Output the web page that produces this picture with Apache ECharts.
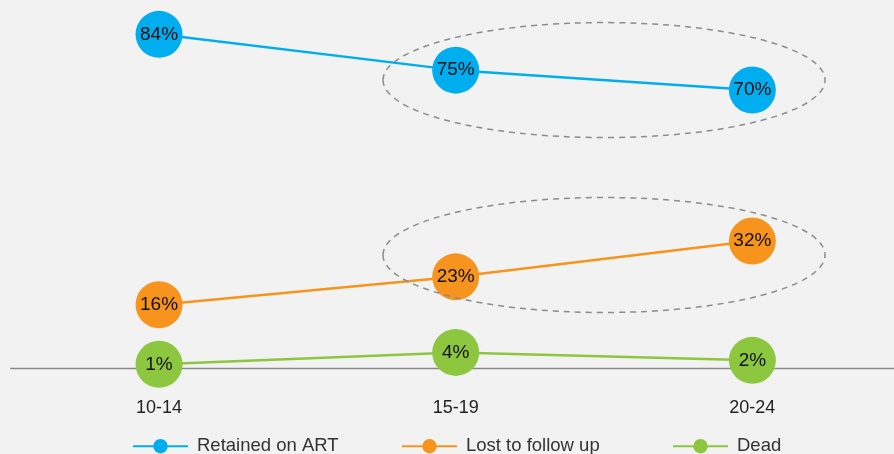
<!DOCTYPE html>
<html>
<head>
<meta charset="utf-8">
<script src="https://cdn.jsdelivr.net/npm/echarts@6/dist/echarts.min.js"></script>
<style>
html,body{margin:0;padding:0;background:#f2f2f2;}
#chart{width:894px;height:454px;}
</style>
</head>
<body>
<div id="chart"></div>
<script>
var categories = ['10-14', '15-19', '20-24'];
var retained = [84, 75, 70];
var lost = [16, 23, 32];
var dead = [1, 4, 2];
var seriesNames = ['Retained on ART', 'Lost to follow up', 'Dead'];
// dashed highlight ellipses, centred in data space (category index, value)
var ellipseCenters = [[1.5, 72.5], [1.5, 28.5]];

var colors = ['#00aeef', '#f7941d', '#8dc63f'];
var legendLefts = [132, 401, 672];
var chart = echarts.init(document.getElementById('chart'));

function mkSeries(name, data, color) {
  return {
    name: name,
    type: 'line',
    data: data,
    symbol: 'circle',
    symbolSize: 47,
    lineStyle: { color: color, width: 2.5 },
    itemStyle: { color: color },
    label: {
      show: true,
      position: 'inside',
      formatter: '{c}%',
      color: '#111',
      fontSize: 19,
      fontFamily: 'Liberation Sans, Arial, sans-serif'
    },
    emphasis: { disabled: true },
    animation: false,
    z: 3
  };
}

var option = {
  backgroundColor: '#f2f2f2',
  animation: false,
  grid: { left: 10.7, width: 890, top: 10.5, bottom: 85.7, containLabel: false, outerBoundsMode: 'none' },
  xAxis: {
    type: 'category',
    data: categories,
    boundaryGap: true,
    axisLine: { lineStyle: { color: '#8a8a8a', width: 1.3 } },
    axisTick: { show: false },
    axisLabel: { color: '#222', fontSize: 18, margin: 31, fontFamily: 'Liberation Sans, Arial, sans-serif' },
    z: 1
  },
  yAxis: {
    type: 'value', min: 0, max: 90, show: false,
    splitLine: { show: false }
  },
  legend: seriesNames.map(function (n, i) {
    return {
      left: legendLefts[i], top: 436.7, padding: 0,
      itemWidth: 55, itemHeight: 18,
      textStyle: { color: '#333', fontSize: 18.5, fontFamily: 'Liberation Sans, Arial, sans-serif', padding: [0, 0, 0, 4] },
      data: [n]
    };
  }),
  series: [
    mkSeries(seriesNames[0], retained, colors[0]),
    mkSeries(seriesNames[1], lost, colors[1]),
    mkSeries(seriesNames[2], dead, colors[2])
  ]
};
chart.setOption(option);

function drawEllipses() {
  var els = ellipseCenters.map(function (c) {
    var p0 = chart.convertToPixel({ gridIndex: 0 }, [1, c[1]]);
    var p1 = chart.convertToPixel({ gridIndex: 0 }, [2, c[1]]);
    var cx = (p0[0] + p1[0]) / 2;
    return {
      type: 'ellipse',
      shape: { cx: cx, cy: p0[1], rx: 221, ry: 57.5 },
      style: { fill: null, stroke: '#8c8c8c', lineWidth: 1.5, lineDash: [6, 5] },
      silent: true,
      z: 10
    };
  });
  chart.setOption({ graphic: els });
}
drawEllipses();
</script>
</body>
</html>
